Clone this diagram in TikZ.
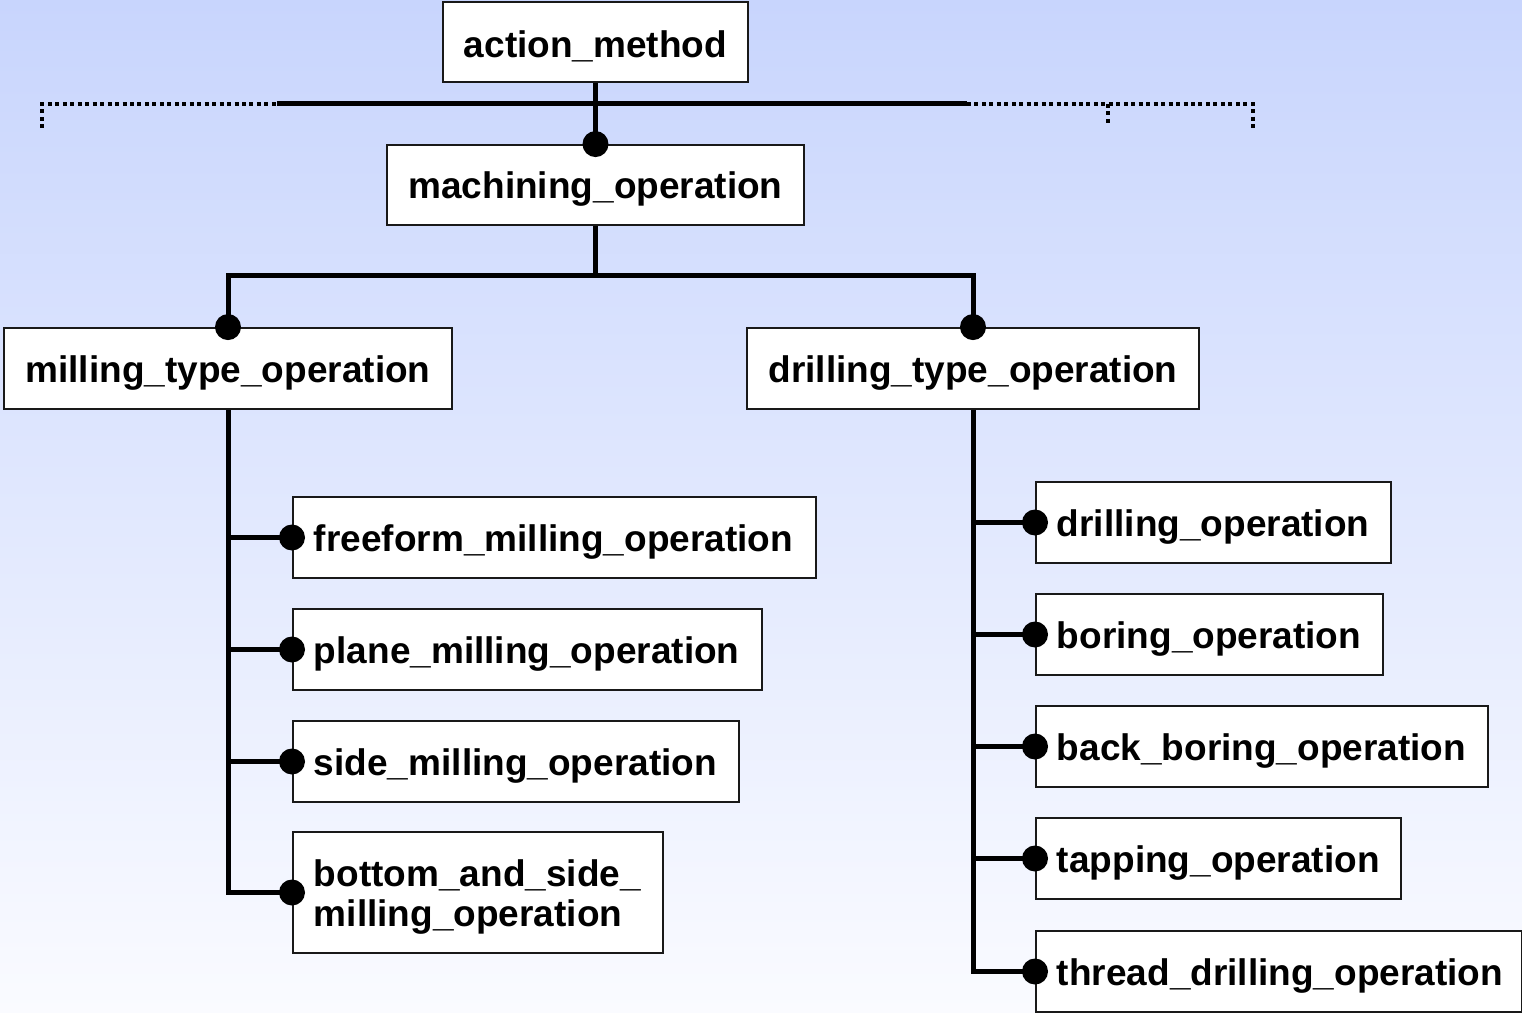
\documentclass[tikz,border=0pt]{standalone}
\usepackage{fontspec}
\setmainfont{Liberation Sans}
\hyphenpenalty=10000
\exhyphenpenalty=10000
\definecolor{bgtop}{RGB}{200,213,253}
\definecolor{bgbot}{RGB}{250,251,255}
\definecolor{frame}{RGB}{25,25,25}
\begin{document}
\begin{tikzpicture}[x=0.75pt,y=-0.75pt,
  every node/.style={font=\bfseries\fontsize{27.75}{30}\selectfont},
  box/.style={draw=frame,line width=1.4pt,fill=white,minimum height=60.75pt,inner ysep=0pt,text height=26.3pt},
  cbox/.style={box,align=center,inner xsep=0pt},
  lbox/.style={box,anchor=west,align=left,inner xsep=15.75pt},
  conn/.style={line width=3.75pt,black},
  dotline/.style={line width=3.4pt,black,dash pattern=on 3pt off 2.6pt},
  knob/.style={fill=black}]
% background
\shade[top color=bgtop,bottom color=bgbot] (0,0) rectangle (1522,1013);
\useasboundingbox (0,0) rectangle (1522,1013);

% class nodes
\node[cbox,minimum width=228.75pt,minimum height=60pt] (act) at (595.5,42) {action\_method};
\node[cbox,minimum width=312.75pt,minimum height=60pt] (mach) at (595.5,185) {machining\_operation};
\node[cbox,minimum width=336pt] (mill) at (228,368.5) {milling\_type\_operation};
\node[cbox,minimum width=339pt] (drill) at (973,368.5) {drilling\_type\_operation};

\node[lbox,text width=360.75pt] (ff) at (292,537.5) {freeform\_milling\_operation};
\node[lbox,text width=320.25pt] (pl) at (292,649.5) {plane\_milling\_operation};
\node[lbox,text width=303pt] (sd) at (292,761.5) {side\_milling\_operation};
\node[lbox,text width=246pt,minimum height=90.75pt] (bs) at (292,892.5) {bottom\_and\_side\_\\milling\_operation};

\node[lbox,text width=234.75pt] (dr) at (1035,522.5) {drilling\_operation};
\node[lbox,text width=228.75pt] (bo) at (1035,634.5) {boring\_operation};
\node[lbox,text width=307.5pt] (bb) at (1035,746.5) {back\_boring\_operation};
\node[lbox,text width=242.25pt] (tp) at (1035,858.5) {tapping\_operation};
\node[lbox,text width=333pt] (th) at (1035,971.5) {thread\_drilling\_operation};

% partial supertype bar under action_method
\coordinate (hl) at (277,104);
\coordinate (hr) at (967,104);
\coordinate (hm) at (1108,104);
\coordinate (hend) at (1253,104);
\coordinate (dl) at (42,104);
\draw[dotline] (42,128) -- (dl) -- (hl);
\draw[dotline] (hr) -- (hend) -- (1253,128);
\draw[dotline] (hm) -- (1108,124);
\draw[conn] (hl) -- (hr);
\draw[conn] (act.south) -- (mach.north);

% machining_operation subtypes
\coordinate (j) at (595.5,276);
\draw[conn] (mach.south) -- (j) -| (mill.north);
\draw[conn] (j) -| (drill.north);

% milling branch
\draw[conn] (mill.south) |- (bs.west);
\foreach \n in {ff,pl,sd}
  \draw[conn] (mill.south |- \n.west) -- (\n.west);

% drilling branch
\draw[conn] (drill.south) |- (th.west);
\foreach \n in {dr,bo,bb,tp}
  \draw[conn] (drill.south |- \n.west) -- (\n.west);

% connection knobs
\foreach \p in {mach.north,mill.north,drill.north,ff.west,pl.west,sd.west,bs.west,dr.west,bo.west,bb.west,tp.west,th.west}
  \fill[knob] (\p) circle[radius=9.75pt];
\end{tikzpicture}
\end{document}
